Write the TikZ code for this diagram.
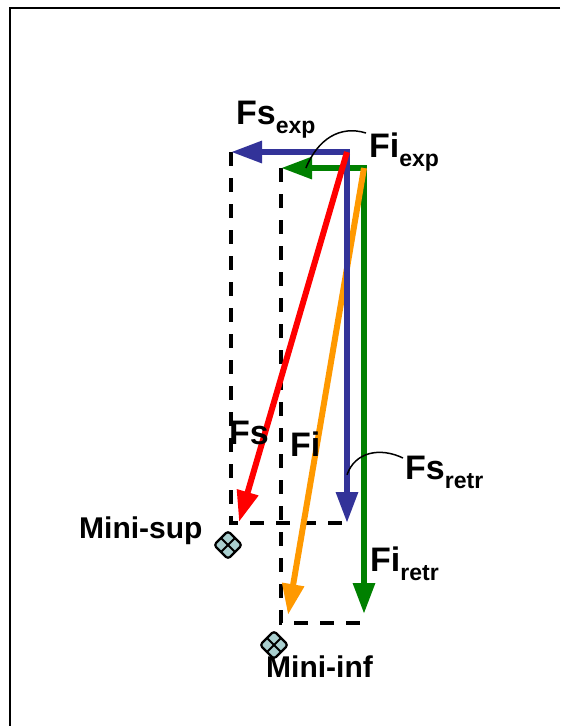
\documentclass[tikz,border=0pt]{standalone}
\usepackage{fontspec}
\setmainfont{Liberation Sans}
\usetikzlibrary{arrows.meta,calc}
\definecolor{fsblue}{HTML}{333399}
\definecolor{figreen}{HTML}{008000}
\definecolor{fired}{HTML}{FF0000}
\definecolor{fiorange}{HTML}{FF9900}
\definecolor{symfill}{HTML}{A9CFCF}
\newcommand\bigf{\fontsize{34}{34}\selectfont\bfseries}
\newcommand\minif{\fontsize{30}{30}\selectfont\bfseries}
\newcommand\lsub[1]{\raisebox{-9pt}{\fontsize{23}{23}\selectfont\bfseries #1}}
\tikzset{
  vec/.style={line width=6pt, -{Triangle[length=31pt,width=21pt]}},
  guide/.style={line width=3.2pt, dash pattern=on 14pt off 12pt},
  leader/.style={line width=1.5pt},
  lab/.style={inner sep=0pt, anchor=base west, font=\bigf},
  minilab/.style={inner sep=0pt, anchor=base west, font=\minif},
  symb/.style={line width=2.2pt, fill=symfill, rounded corners=3pt}
}
\begin{document}
\begin{tikzpicture}[x=1pt,y=-1pt]
\useasboundingbox (0,0) rectangle (560,726);
% frame
\draw[line width=2pt] (560,8) -- (10,8) -- (10,726);
% points
\coordinate (O1) at (347,152);
\coordinate (O2) at (364,168);
\coordinate (FsExpTip) at (231,152);
\coordinate (FsRetrTip) at (347,523);
\coordinate (FsTip) at (239,522);
\coordinate (FiExpTip) at (281,168);
\coordinate (FiRetrTip) at (364,614);
\coordinate (FiTip) at (288,615);
\coordinate (C1) at (231,523);
\coordinate (C2) at (281,623);
\coordinate (E2) at (364,623);
% dashed guides
\draw[guide] (FsExpTip) -- (C1) -- (FsRetrTip);
\draw[guide] (FiExpTip) -- (C2) -- (E2);
% vectors
\draw[vec, figreen] ($(O2)+(3,0)$) -- (FiExpTip);
\draw[vec, figreen] ($(O2)+(0,-3)$) -- (FiRetrTip);
\draw[vec, fiorange] (O2) -- (FiTip);
\draw[vec, fsblue] ($(O1)+(0,-3)$) -- (FsRetrTip);
\draw[vec, fsblue] ($(O1)+(3,0)$) -- (FsExpTip);
\draw[vec, fired] (O1) -- (FsTip);
% labels
\node[lab] (fsexp) at (236,124) {Fs\lsub{exp}};
\node[lab] (fiexp) at (369,157) {Fi\lsub{exp}};
\node[lab] (fs) at (229,444) {Fs};
\node[lab] (fi) at (290,456) {Fi};
\node[lab] (fsretr) at (405,479) {Fs\lsub{retr}};
\node[lab] (firetr) at (370,571) {Fi\lsub{retr}};
\node[minilab] (minisup) at (79,538) {Mini-sup};
\node[minilab] (miniinf) at (266,677) {Mini-inf};
% leaders
\coordinate (L1) at ($(O2)!0.7!(FiExpTip)$);
\coordinate (L2) at ($(O1)!0.87!(FsRetrTip)$);
\draw[leader] ($(fiexp.base west)+(-3,-24)$) .. controls +(-26,-8) and +(12,-29) .. (L1);
\draw[leader] ($(fsretr.base west)+(-2,-21)$) .. controls +(-23,-11) and +(8,-23) .. (L2);
% minima symbols
\coordinate (ms) at (228,545);
\coordinate (mi) at (274,645);
\foreach \c in {ms,mi}{
  \draw[symb] ($(\c)+(0,-14)$) -- ($(\c)+(14,0)$) -- ($(\c)+(0,14)$) -- ($(\c)+(-14,0)$) -- cycle;
  \draw[line width=2pt] ($(\c)+(-7,-7)$) -- ($(\c)+(7,7)$);
  \draw[line width=2pt] ($(\c)+(7,-7)$) -- ($(\c)+(-7,7)$);
}
\end{tikzpicture}
\end{document}
